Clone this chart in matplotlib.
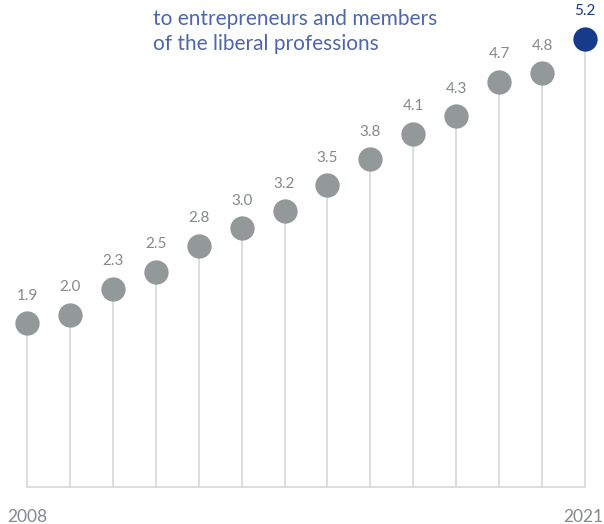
import matplotlib.pyplot as plt

years = list(range(2008, 2022))
values = [1.9, 2.0, 2.3, 2.5, 2.8, 3.0, 3.2, 3.5, 3.8, 4.1, 4.3, 4.7, 4.8, 5.2]
title_lines = ["to entrepreneurs and members", "of the liberal professions"]

grey_dot = "#939899"
grey_text = "#85898b"
stem = "#d8dbde"
blue = "#173b8b"
title_blue = "#4e67ab"

plt.rcParams["font.family"] = ["Lato", "DejaVu Sans"]

W, H = 604, 524
fig = plt.figure(figsize=(W / 100, H / 100), dpi=100)
ax = fig.add_axes([0, 0, 1, 1])
ax.axis("off")

# pixel layout: first stem at x=27, last at x=585, zero line at y=487
x0, x1, ybase, ppu = 27, 585, 487, 86.2
step = (x1 - x0) / (len(years) - 1)
ax.set_xlim(-x0 / step, len(years) - 1 + (W - x1) / step)
ax.set_ylim(-(H - ybase) / ppu, ybase / ppu)

xs = list(range(len(years)))
ax.plot([xs[0], xs[-1]], [0, 0], color=stem, lw=1.3, zorder=1, solid_capstyle="butt")
for i, v in zip(xs, values):
    last = i == xs[-1]
    ax.plot([i, i], [0, v], color=stem, lw=1.3, zorder=1)
    ax.plot(i, v, "o", ms=17.5, color=blue if last else grey_dot,
            mec="none", zorder=3)
    ax.annotate(f"{v:.1f}", (i, v), xytext=(0, 17), textcoords="offset points",
                ha="center", va="baseline", fontsize=11,
                color=blue if last else grey_text)

fig.text(7 / W, 1 - 522 / H, str(years[0]), ha="left", va="baseline",
         fontsize=12.5, color=grey_text)
fig.text(603 / W, 1 - 522 / H, str(years[-1]), ha="right", va="baseline",
         fontsize=12.5, color=grey_text)

for k, line in enumerate(title_lines):
    fig.text(153 / W, 1 - (25 + 25 * k) / H, line, ha="left", va="baseline",
             fontsize=15, color=title_blue)

fig.savefig("out.png", dpi=100)
